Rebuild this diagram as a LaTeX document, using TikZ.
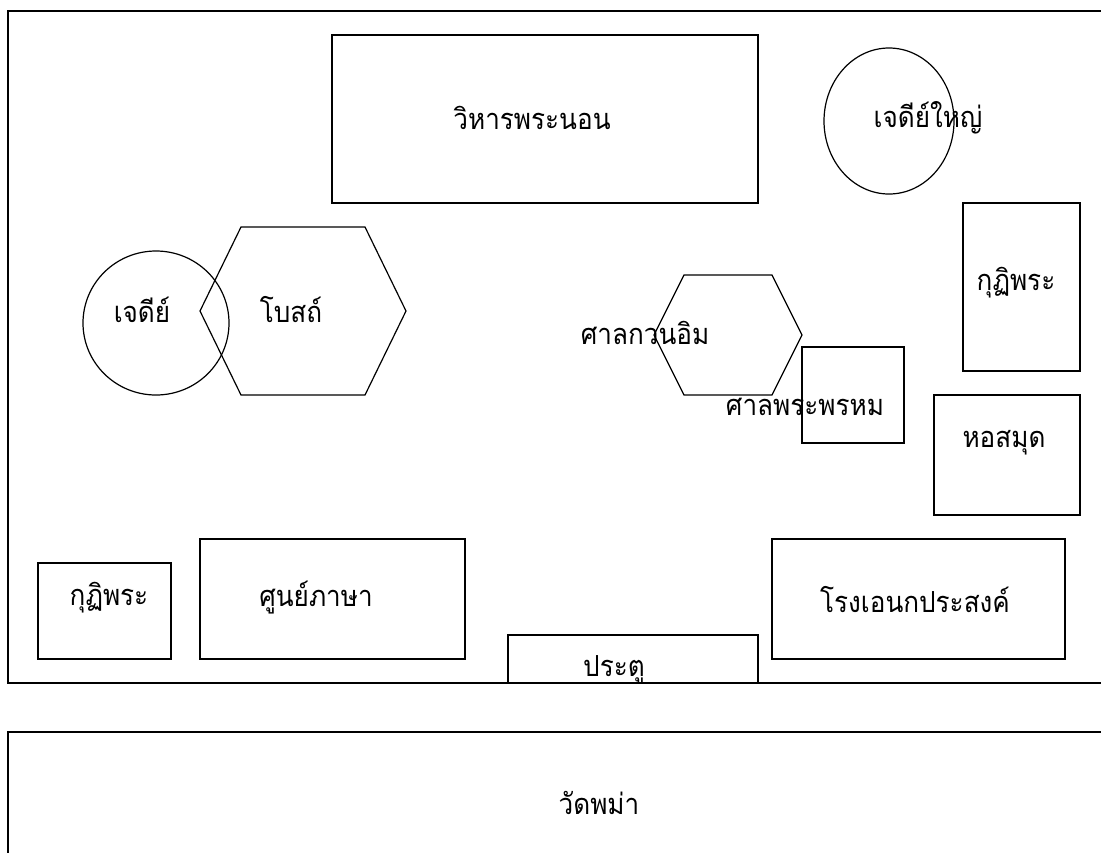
\documentclass[tikz,border=0pt]{standalone}
\usepackage{fontspec}
\usepackage{tikz}
\usetikzlibrary{shapes.geometric}
\newfontfamily\thaifont[Script=Thai, FakeStretch=0.9]{Loma}

\tikzset{
  plan/.style={line width=0.6pt},
  building/.style={draw, plan, rectangle, inner sep=0pt},
  stupa/.style={draw, plan, ellipse, inner sep=0pt},
  place/.style={font=\thaifont\fontsize{14.5}{16}\selectfont, inner sep=0pt}
}

\begin{document}
\begin{tikzpicture}[x=0.5pt, y=-0.5pt]
\useasboundingbox (0,0) rectangle (1101,852);

% Temple grounds and the neighbouring temple
\draw[plan] (1120,11) -- (8,11) -- (8,683) -- (1120,683);
\draw[plan] (1120,732) -- (8,732) -- (8,880);
\node[place] (wat) at (599,803) {วัดพม่า};

% Reclining Buddha hall
\node[building, minimum width=213pt, minimum height=84pt] (vihara) at (545,119) {};
\node[place] (viharatext) at (532,118) {วิหารพระนอน};

% Great stupa
\node[stupa, minimum width=65pt, minimum height=73pt] (bigchedi) at (889,121) {};
\node[place] (bigcheditext) at (928,118) {เจดีย์ใหญ่};

% Stupa and ordination hall
\node[stupa, minimum width=73pt, minimum height=72pt] (chedi) at (156,323) {};
\node[place] (chedittext) at (142,310) {เจดีย์};
\coordinate (bosot) at (303,311);
\draw[plan] (bosot) +(-103,0) -- +(-62,-84) -- +(62,-84) -- +(103,0) -- +(62,84) -- +(-62,84) -- cycle;
\node[place] (bosottext) at (291,310) {โบสถ์};

% Guan Yin shrine
\coordinate (kuanim) at (728,335);
\draw[plan] (kuanim) +(-74,0) -- +(-44,-60) -- +(44,-60) -- +(74,0) -- +(44,60) -- +(-44,60) -- cycle;
\node[place] (kuanimtext) at (645,333) {ศาลกวนอิม};

% Brahma shrine
\node[building, minimum width=51pt, minimum height=48pt] (brahma) at (853,395) {};
\node[place] (brahmatext) at (805,407) {ศาลพระพรหม};

% Monks' quarters and library on the right
\node[building, minimum width=58.5pt, minimum height=84pt] (kutieast) at (1021.5,287) {};
\node[place] (kutieasttext) at (1016,283) {กุฏิพระ};
\node[building, minimum width=73pt, minimum height=60pt] (library) at (1007,455) {};
\node[place] (librarytext) at (1004,443) {หอสมุด};

% Buildings along the bottom
\node[building, minimum width=66.5pt, minimum height=48pt] (kutiwest) at (104.5,611) {};
\node[place] (kutiwesttext) at (109,598) {กุฏิพระ};
\node[building, minimum width=132.5pt, minimum height=60pt] (language) at (332.5,599) {};
\node[place] (languagetext) at (316,598) {ศูนย์ภาษา};
\node[building, minimum width=146.5pt, minimum height=60pt] (hall) at (918.5,599) {};
\node[place] (halltext) at (915,600) {โรงเอนกประสงค์};

% Gate
\node[building, minimum width=125pt, minimum height=24pt] (gate) at (633,659) {};
\node[place] (gatetext) at (614,670) {ประตู};
\end{tikzpicture}
\end{document}
